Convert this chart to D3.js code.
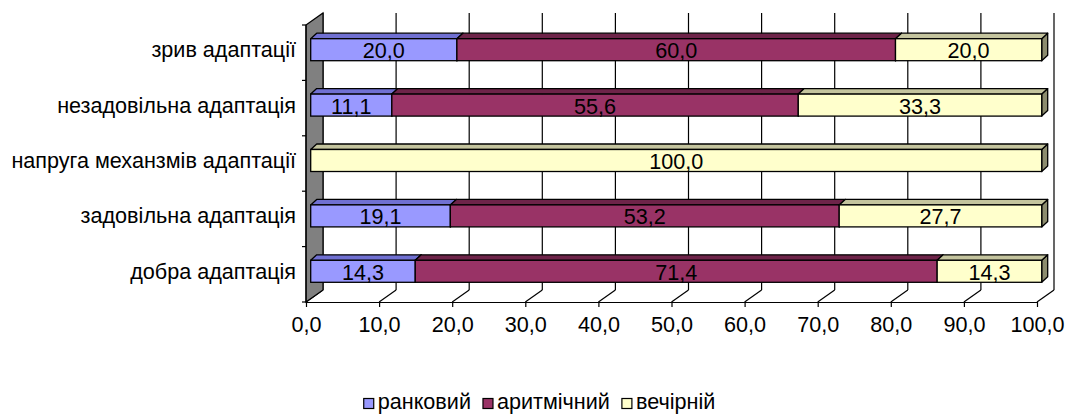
<!DOCTYPE html>
<html>
<head>
<meta charset="utf-8">
<script src="https://cdn.jsdelivr.net/npm/d3@7"></script>
<style>
  html, body { margin: 0; padding: 0; background: #fff; }
  svg { display: block; font-family: Arial, "Liberation Sans", sans-serif; }
</style>
</head>
<body>
<svg id="chart" width="1067" height="414"></svg>
<script>
// Categories (top to bottom) and the three series, in percent
const categories = [
  "зрив адаптації",
  "незадовільна адаптація",
  "напруга механзмів адаптації",
  "задовільна адаптація",
  "добра адаптація"
];
const seriesNames = ["ранковий", "аритмічний", "вечірній"];
const morning    = [20.0, 11.1, 0,     19.1, 14.3];
const arrhythmic = [60.0, 55.6, 0,     53.2, 71.4];
const evening    = [20.0, 33.3, 100.0, 27.7, 14.3];
const xTicks = [0, 10, 20, 30, 40, 50, 60, 70, 80, 90, 100];

const seriesValues = [morning, arrhythmic, evening];
const colors = [
  { front: "#9999FF", top: "#7070D2", side: "#5C5CB0" },
  { front: "#993366", top: "#6E2449", side: "#5A1D3C" },
  { front: "#FFFFCC", top: "#C4C49E", side: "#8C8C6E" }
];

const svg = d3.select("#chart");
const FONT = 21.6;

// Plot geometry: front plane and depth of the 3-D box
const plotLeft = 306, plotRight = 1037, plotTop = 25, plotBottom = 302;
const depth = { dx: 17, dy: -12 };      // wall / floor depth
const barDepth = { dx: 6, dy: -5.5 };   // thickness of the bars
const barInset = { dx: 4.7, dy: -3 };   // where bars sit within the depth
const barH = 22;

const x = d3.scaleLinear().domain([0, 100]).range([plotLeft, plotRight]);
const y = d3.scaleBand().domain(categories).range([plotTop, plotBottom]);

const fmt = v => d3.format(".1f")(v).replace(".", ",");

// Back wall gridlines
svg.append("g").selectAll("line").data(xTicks).join("line")
  .attr("x1", d => x(d) + depth.dx).attr("x2", d => x(d) + depth.dx)
  .attr("y1", plotTop + depth.dy).attr("y2", plotBottom + depth.dy)
  .attr("stroke", "#000").attr("stroke-width", 1.2);

// Floor: diagonal lines from the front axis to the back wall
svg.append("g").selectAll("line").data(xTicks).join("line")
  .attr("x1", d => x(d)).attr("y1", plotBottom)
  .attr("x2", d => x(d) + depth.dx).attr("y2", plotBottom + depth.dy)
  .attr("stroke", "#000").attr("stroke-width", 1.2);

// Grey side wall
svg.append("polygon")
  .attr("points", [
    [plotLeft, plotTop], [plotLeft + depth.dx, plotTop + depth.dy],
    [plotLeft + depth.dx, plotBottom + depth.dy], [plotLeft, plotBottom]
  ].map(p => p.join(",")).join(" "))
  .attr("fill", "#808080").attr("stroke", "#000").attr("stroke-width", 1.2);

// Bottom value axis
const xAxis = svg.append("g")
  .attr("transform", `translate(0,${plotBottom})`)
  .call(d3.axisBottom(x).tickValues(xTicks).tickFormat(fmt).tickSize(5).tickSizeOuter(0).tickPadding(10));
xAxis.select(".domain").attr("stroke", "#000").attr("stroke-width", 1.2);
xAxis.selectAll(".tick line").attr("stroke", "#000").attr("stroke-width", 1.2);
xAxis.selectAll("text").attr("font-size", FONT).attr("font-family", "Arial, 'Liberation Sans', sans-serif").attr("fill", "#000");

// Left category axis: edge and ticks between categories
svg.append("line")
  .attr("x1", plotLeft).attr("x2", plotLeft)
  .attr("y1", plotTop).attr("y2", plotBottom)
  .attr("stroke", "#000").attr("stroke-width", 1.2);
const bounds = categories.map(c => y(c)).concat([plotBottom]);
svg.append("g").selectAll("line").data(bounds).join("line")
  .attr("x1", plotLeft - 4).attr("x2", plotLeft)
  .attr("y1", d => d).attr("y2", d => d)
  .attr("stroke", "#000").attr("stroke-width", 1.2);

svg.append("g").selectAll("text").data(categories).join("text")
  .attr("x", 296)
  .attr("y", d => y(d) + y.bandwidth() / 2 + barInset.dy)
  .attr("text-anchor", "end")
  .attr("dominant-baseline", "central")
  .attr("font-size", FONT)
  .attr("fill", "#000")
  .text(d => d);

// Stacked 3-D bars
const poly = pts => pts.map(p => p.join(",")).join(" ");
const barsG = svg.append("g");
categories.forEach((cat, ci) => {
  const yTop = y(cat) + y.bandwidth() / 2 + barInset.dy - barH / 2;
  let acc = 0;
  seriesValues.forEach((vals, si) => {
    const v = vals[ci];
    if (!v) return;
    const x0 = x(acc) + barInset.dx, x1 = x(acc + v) + barInset.dx;
    acc += v;
    const c = colors[si];
    const g = barsG.append("g");
    // right end face
    g.append("polygon")
      .attr("points", poly([[x1, yTop], [x1 + barDepth.dx, yTop + barDepth.dy],
        [x1 + barDepth.dx, yTop + barH + barDepth.dy], [x1, yTop + barH]]))
      .attr("fill", c.side).attr("stroke", "#000").attr("stroke-width", 1.3).attr("stroke-linejoin", "round");
    // top face
    g.append("polygon")
      .attr("points", poly([[x0, yTop], [x0 + barDepth.dx, yTop + barDepth.dy],
        [x1 + barDepth.dx, yTop + barDepth.dy], [x1, yTop]]))
      .attr("fill", c.top).attr("stroke", "#000").attr("stroke-width", 1.3).attr("stroke-linejoin", "round");
    // front face
    g.append("rect")
      .attr("x", x0).attr("y", yTop).attr("width", x1 - x0).attr("height", barH)
      .attr("fill", c.front).attr("stroke", "#000").attr("stroke-width", 1.3);
    // value label
    g.append("text")
      .attr("x", (x0 + x1) / 2).attr("y", yTop + barH / 2 + 1)
      .attr("text-anchor", "middle").attr("dominant-baseline", "central")
      .attr("font-size", FONT).attr("fill", "#000")
      .text(fmt(v));
  });
});

// Legend, centred under the plot
const legend = svg.append("g");
const items = seriesNames.map((name, i) => {
  const g = legend.append("g");
  g.append("rect").attr("x", 0).attr("y", -10).attr("width", 10).attr("height", 10)
    .attr("fill", colors[i].front).attr("stroke", "#000").attr("stroke-width", 1.2);
  const t = g.append("text").attr("x", 14).attr("y", 0)
    .attr("font-size", FONT).attr("fill", "#000").text(name);
  return { g, w: 14 + t.node().getComputedTextLength() };
});
const gap = 12;
const total = d3.sum(items, d => d.w) + gap * (items.length - 1);
let lx = 539.5 - total / 2;
items.forEach(it => {
  it.g.attr("transform", `translate(${lx},408.5)`);
  lx += it.w + gap;
});
</script>
</body>
</html>
